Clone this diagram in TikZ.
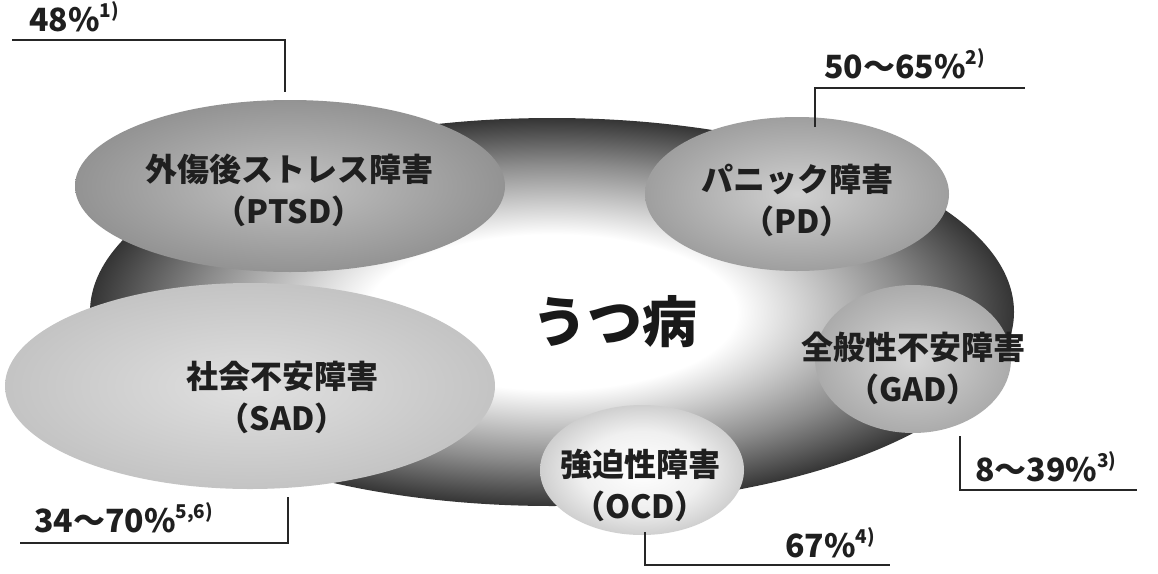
\documentclass[tikz,border=0pt]{standalone}
\usepackage{fontspec}
\setmainfont{Noto Sans CJK JP}
\pgfdeclareradialshading{depsh}{\pgfpoint{0bp}{0bp}}{color(0bp)=(white); color(10bp)=(white); color(19bp)=(black!45); color(26bp)=(black!85); color(31bp)=(black!95); color(50bp)=(black!95)}
\pgfdeclareradialshading{ptsdsh}{\pgfpoint{0bp}{0bp}}{color(0bp)=(black!24); color(35.4bp)=(black!50); color(50bp)=(black!50)}
\pgfdeclareradialshading{pdsh}{\pgfpoint{0bp}{0bp}}{color(0bp)=(black!18); color(35.4bp)=(black!46); color(50bp)=(black!46)}
\pgfdeclareradialshading{sadsh}{\pgfpoint{0bp}{0bp}}{color(0bp)=(black!12); color(35.4bp)=(black!28); color(50bp)=(black!28)}
\pgfdeclareradialshading{gadsh}{\pgfpoint{0bp}{0bp}}{color(0bp)=(black!16); color(35.4bp)=(black!40); color(50bp)=(black!40)}
\pgfdeclareradialshading{ocdsh}{\pgfpoint{0bp}{0bp}}{color(0bp)=(white); color(15bp)=(black!6); color(35.4bp)=(black!32); color(50bp)=(black!32)}
\newcommand{\supr}[1]{\raisebox{0.42em}{\fontsize{19}{19}\selectfont #1}}
\tikzset{
  dname/.style={font=\fontsize{32}{42}\selectfont\bfseries, align=center, text=black!88},
  pct/.style={font=\fontsize{32}{32}\selectfont\bfseries, text=black!88, inner sep=0pt, anchor=base west},
  leader/.style={line width=2.8pt, black!85}
}
\begin{document}
\begin{tikzpicture}[x=1pt,y=-1pt]
\useasboundingbox (0,0) rectangle (1158,573);
\fill[white] (0,0) rectangle (1158,573);
% main ellipse
\shade[shading=depsh] (552,312) ellipse [x radius=462, y radius=194];
% disorder ellipses
\shade[shading=ptsdsh] (290,186) ellipse [x radius=215, y radius=86];
\shade[shading=pdsh] (797,194) ellipse [x radius=152, y radius=77];
\shade[shading=sadsh] (250,386) ellipse [x radius=245, y radius=103];
\shade[shading=gadsh] (913,359) ellipse [x radius=98, y radius=74];
\shade[shading=ocdsh] (642,470) ellipse [x radius=102, y radius=65];
% texts
\node[font=\fontsize{55}{55}\selectfont\bfseries, text=black!90] (dep) at (615,322) {うつ病};
\node[dname] (ptsd) at (289,190) {外傷後ストレス障害\\（PTSD）};
\node[dname] (pd) at (797,200) {パニック障害\\（PD）};
\node[dname] (sad) at (282,397) {社会不安障害\\（SAD）};
\node[dname] (gad) at (913,368) {全般性不安障害\\（GAD）};
\node[dname] (ocd) at (640,485) {強迫性障害\\（OCD）};
% leader coordinates
\coordinate (a0) at (12,40); \coordinate (a1) at (285,40); \coordinate (a2) at (285,92);
\coordinate (b0) at (815,127); \coordinate (b1) at (815,88); \coordinate (b2) at (1025,88);
\coordinate (c0) at (960,436); \coordinate (c1) at (960,490); \coordinate (c2) at (1137,490);
\coordinate (d0) at (645,532); \coordinate (d1) at (645,565); \coordinate (d2) at (890,565);
\coordinate (e0) at (20,543); \coordinate (e1) at (288,543); \coordinate (e2) at (288,497);
\draw[leader] (a0) -- (a1) -- (a2);
\draw[leader] (b0) -- (b1) -- (b2);
\draw[leader] (c0) -- (c1) -- (c2);
\draw[leader] (d0) -- (d1) -- (d2);
\draw[leader] (e0) -- (e1) -- (e2);
% percentages
\node[pct] (pa) at (29,31) {48\%\supr{1)}};
\node[pct] (pb) at (824,78) {50～65\%\supr{2)}};
\node[pct] (pc) at (975,481) {8～39\%\supr{3)}};
\node[pct] (pd2) at (785,557) {67\%\supr{4)}};
\node[pct] (pe) at (34,532) {34～70\%\supr{5,6)}};
\end{tikzpicture}
\end{document}
